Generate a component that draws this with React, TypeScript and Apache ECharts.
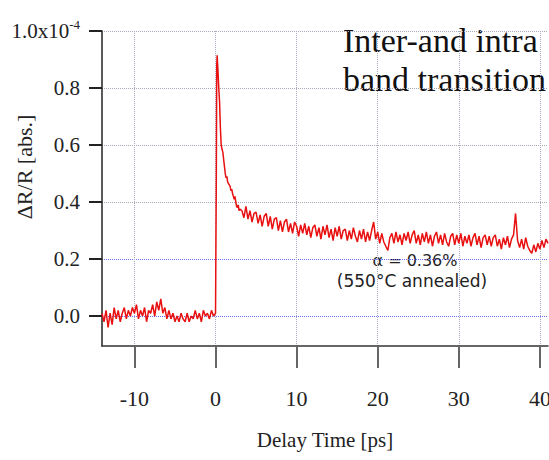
import React, { useEffect, useRef } from 'react';
import * as echarts from 'echarts';

const xTicks = [-10, 0, 10, 20, 30, 40];
const yTicks = [0, 0.2, 0.4, 0.6, 0.8, 1.0];

// Delay time [ps], dR/R [1e-4]
const baselineData: [number, number][] = [
  [-14.0, 0.01], [-13.75, -0.02], [-13.5, 0.02], [-13.25, -0.04], [-13.0, 0.01], [-12.75, -0.03],
  [-12.5, 0.03], [-12.25, -0.01], [-12.0, 0.02], [-11.75, -0.02], [-11.5, 0.01], [-11.25, 0.03],
  [-11.0, -0.01], [-10.75, 0.02], [-10.5, 0.0], [-10.25, 0.03], [-10.0, 0.01], [-9.75, 0.04],
  [-9.5, -0.01], [-9.25, 0.02], [-9.0, 0.0], [-8.75, 0.03], [-8.5, -0.02], [-8.25, 0.02],
  [-8.0, 0.01], [-7.75, 0.04], [-7.5, 0.0], [-7.25, 0.05], [-7.0, 0.02], [-6.75, 0.06],
  [-6.5, 0.01], [-6.25, 0.03], [-6.0, -0.01], [-5.75, 0.02], [-5.5, -0.01], [-5.25, 0.01],
  [-5.0, -0.02], [-4.75, 0.0], [-4.5, -0.02], [-4.25, 0.01], [-4.0, -0.01], [-3.75, -0.02],
  [-3.5, 0.01], [-3.25, -0.02], [-3.0, 0.0], [-2.75, -0.01], [-2.5, 0.02], [-2.25, -0.01],
  [-2.0, 0.01], [-1.75, -0.02], [-1.5, 0.02], [-1.25, 0.0], [-1.0, 0.01], [-0.75, -0.01],
  [-0.5, 0.02], [-0.25, 0.0], [0.0, 0.01],
];

const riseData: [number, number][] = [
  [0.1, 0.5], [0.15, 0.88], [0.2, 0.915], [0.3, 0.86], [0.4, 0.8], [0.5, 0.75], [0.6, 0.66],
  [0.7, 0.6], [0.8, 0.585], [0.9, 0.575], [1.0, 0.55], [1.1, 0.525], [1.2, 0.5], [1.3, 0.485],
  [1.4, 0.49], [1.5, 0.47], [1.6, 0.465], [1.7, 0.46], [1.8, 0.455], [1.9, 0.44], [2.0, 0.445],
  [2.1, 0.43], [2.2, 0.42], [2.3, 0.41], [2.4, 0.42], [2.5, 0.4], [2.6, 0.385], [2.7, 0.38],
  [2.8, 0.39], [2.9, 0.37], [3.0, 0.375],
];

const tailData: [number, number][] = [
  [3.25, 0.37], [3.5, 0.345], [3.75, 0.385], [4.0, 0.34], [4.25, 0.37], [4.5, 0.33], [4.75, 0.36],
  [5.0, 0.365], [5.25, 0.325], [5.5, 0.355], [5.75, 0.315], [6.0, 0.35], [6.25, 0.36], [6.5, 0.315],
  [6.75, 0.35], [7.0, 0.305], [7.25, 0.34], [7.5, 0.345], [7.75, 0.3], [8.0, 0.335], [8.25, 0.295],
  [8.5, 0.33], [8.75, 0.34], [9.0, 0.295], [9.25, 0.325], [9.5, 0.29], [9.75, 0.33], [10.0, 0.315],
  [10.25, 0.28], [10.5, 0.32], [10.75, 0.29], [11.0, 0.325], [11.25, 0.285], [11.5, 0.315], [11.75, 0.275],
  [12.0, 0.31], [12.25, 0.32], [12.5, 0.28], [12.75, 0.31], [13.0, 0.27], [13.25, 0.315], [13.5, 0.285],
  [13.75, 0.32], [14.0, 0.275], [14.25, 0.305], [14.5, 0.265], [14.75, 0.31], [15.0, 0.28], [15.25, 0.315],
  [15.5, 0.27], [15.75, 0.3], [16.0, 0.305], [16.25, 0.265], [16.5, 0.3], [16.75, 0.27], [17.0, 0.31],
  [17.25, 0.28], [17.5, 0.26], [17.75, 0.3], [18.0, 0.27], [18.25, 0.305], [18.5, 0.26], [18.75, 0.295],
  [19.0, 0.265], [19.25, 0.3], [19.5, 0.33], [19.75, 0.27], [20.0, 0.295], [20.25, 0.255], [20.5, 0.29],
  [20.75, 0.26], [21.0, 0.245], [21.25, 0.23], [21.5, 0.275], [21.75, 0.29], [22.0, 0.255], [22.25, 0.295],
  [22.5, 0.26], [22.75, 0.285], [23.0, 0.25], [23.25, 0.29], [23.5, 0.265], [23.75, 0.295], [24.0, 0.255],
  [24.25, 0.285], [24.5, 0.3], [24.75, 0.255], [25.0, 0.285], [25.25, 0.25], [25.5, 0.29], [25.75, 0.26],
  [26.0, 0.295], [26.25, 0.255], [26.5, 0.285], [26.75, 0.245], [27.0, 0.28], [27.25, 0.295], [27.5, 0.255],
  [27.75, 0.285], [28.0, 0.25], [28.25, 0.29], [28.5, 0.26], [28.75, 0.245], [29.0, 0.28], [29.25, 0.29],
  [29.5, 0.25], [29.75, 0.285], [30.0, 0.255], [30.25, 0.29], [30.5, 0.245], [30.75, 0.28], [31.0, 0.255],
  [31.25, 0.285], [31.5, 0.245], [31.75, 0.275], [32.0, 0.29], [32.25, 0.25], [32.5, 0.28], [32.75, 0.24],
  [33.0, 0.275], [33.25, 0.285], [33.5, 0.25], [33.75, 0.28], [34.0, 0.245], [34.25, 0.275], [34.5, 0.285],
  [34.75, 0.245], [35.0, 0.27], [35.25, 0.235], [35.5, 0.275], [35.75, 0.25], [36.0, 0.28], [36.25, 0.24],
  [36.5, 0.27], [36.75, 0.285], [37.0, 0.36], [37.25, 0.265], [37.5, 0.24], [37.75, 0.27], [38.0, 0.235],
  [38.25, 0.275], [38.5, 0.245], [38.75, 0.23], [39.0, 0.22], [39.25, 0.25], [39.5, 0.225], [39.75, 0.255],
  [40.0, 0.235], [40.25, 0.265], [40.5, 0.24], [40.75, 0.27], [41.0, 0.255],
];

const titleLines = ['Inter-and intra', 'band transition'];
const noteLines = ['α = 0.36%', '(550°C annealed)'];
const yAxisName = 'ΔR/R [abs.]';
const xAxisName = 'Delay Time [ps]';

const SERIF = "'Liberation Serif'";
const SANS = "'DejaVu Sans'";

export default function App() {
  const ref = useRef<HTMLDivElement>(null);
  useEffect(() => {
    const chart = echarts.init(ref.current!, null, { renderer: 'svg' });
    chart.setOption({
      animation: false,
      backgroundColor: '#ffffff',
      grid: { left: 102, top: 31, right: 1, bottom: 114, containLabel: false, outerBoundsMode: 'none' },
      xAxis: {
        type: 'value',
        min: -14,
        max: 41,
        name: xAxisName,
        nameLocation: 'middle',
        nameGap: 83,
        nameMoveOverlap: false,
        nameTextStyle: { fontFamily: 'Liberation Serif', fontSize: 21, color: '#222' },
        axisLine: { show: true, onZero: false, lineStyle: { color: '#333', width: 1.5 } },
        axisTick: { show: true, customValues: xTicks, length: 22, lineStyle: { color: '#666', width: 2 } },
        axisLabel: { customValues: xTicks, margin: 41, fontFamily: 'Liberation Serif', fontSize: 22, color: '#222' },
        splitLine: { show: true, lineStyle: { type: 'dotted', color: '#a8a8c0', width: 1 } },
      },
      yAxis: {
        type: 'value',
        min: -0.105,
        max: 1.0,
        axisLine: { show: true, onZero: false, lineStyle: { color: '#222', width: 1.5 } },
        axisTick: { show: true, customValues: yTicks, length: 13, lineStyle: { color: '#222', width: 2 } },
        axisLabel: {
          customValues: yTicks,
          margin: 22,
          fontFamily: 'Liberation Serif',
          fontSize: 21,
          color: '#222',
          formatter: (v: number) => (Math.abs(v - 1) < 1e-9 ? '{m|1.0x10}{s|-4}' : v.toFixed(1)),
          rich: {
            m: { fontFamily: 'Liberation Serif', fontSize: 21, color: '#222' },
            s: { fontFamily: 'Liberation Serif', fontSize: 13, color: '#222', padding: [0, 0, 14, 0] },
          },
        },
        splitLine: {
          show: true,
          lineStyle: { type: 'dotted', color: ['#6c6cf0', '#6c6cf0', '#a8a8b8', '#a8a8b8', '#a8a8b8', '#a8a8b8'], width: 1 },
        },
      },
      graphic: [
        {
          type: 'text',
          x: 24,
          y: 167,
          rotation: Math.PI / 2,
          style: { text: yAxisName, textAlign: 'center', textVerticalAlign: 'middle', font: `22px ${SERIF}`, fill: '#222' },
        },
        {
          type: 'text',
          x: 343,
          y: 23,
          style: { text: titleLines[0], textVerticalAlign: 'top', font: `34px ${SERIF}`, fill: '#111' },
        },
        {
          type: 'text',
          x: 343,
          y: 62,
          style: { text: titleLines[1], textVerticalAlign: 'top', font: `34px ${SERIF}`, fill: '#111' },
        },
        {
          type: 'text',
          style: { text: noteLines[0], x: 415, y: 260, textAlign: 'center', textVerticalAlign: 'middle', font: `16px ${SANS}`, fill: '#222' },
        },
        {
          type: 'text',
          style: { text: noteLines[1], x: 412, y: 281, textAlign: 'center', textVerticalAlign: 'middle', font: `17px ${SANS}`, fill: '#222' },
        },
      ],
      series: [
        {
          type: 'line',
          data: [...baselineData, ...riseData, ...tailData],
          showSymbol: false,
          symbol: 'none',
          lineStyle: { color: '#e81010', width: 1.5 },
          clip: true,
        },
      ],
    });
    return () => chart.dispose();
  }, []);
  return <div ref={ref} style={{ position: 'absolute', left: 0, top: 0, width: 549, height: 460 }} />;
}
